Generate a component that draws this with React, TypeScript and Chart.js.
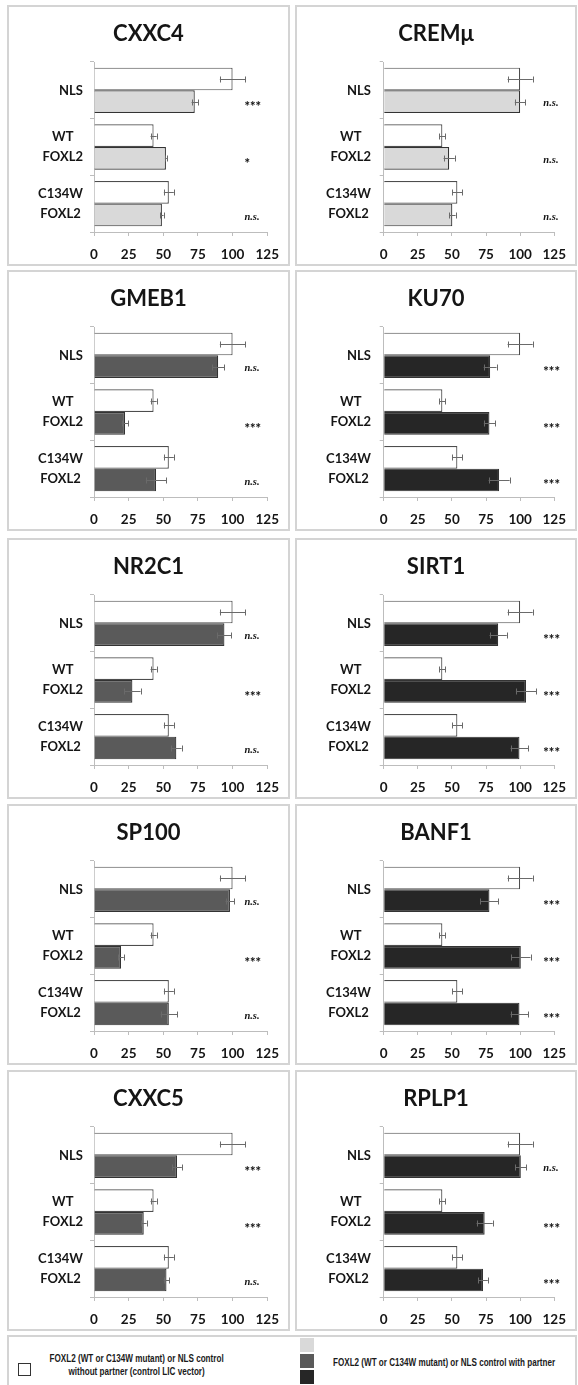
import React, { useEffect, useLayoutEffect, useRef } from "react";
import { Chart, registerables } from "chart.js";

Chart.register(...registerables);

// ---------- DATA ----------
const categoryLabels: (string | string[])[] = ["NLS", ["WT", "FOXL2"], ["C134W", "FOXL2"]];
const xTickValues = [0, 25, 50, 75, 100, 125];

// control (no partner, LIC vector) — same in every panel
const controlValues = [100, 43, 54];
const controlErrors = [9.2, 2.2, 3.6];

const geneNames = ["CXXC4", "CREMμ", "GMEB1", "KU70", "NR2C1", "SIRT1", "SP100", "BANF1", "CXXC5", "RPLP1"];

const cxxc4Values = [72.7, 51.9, 49.0];
const cxxc4Errors = [2.3, 0.7, 1.2];
const cxxc4Signif = ["***", "*", "n.s."];

const cremValues = [100, 48, 50.3];
const cremErrors = [3.9, 4.1, 2.4];
const cremSignif = ["n.s.", "n.s.", "n.s."];

const gmeb1Values = [89.6, 22.4, 44.8];
const gmeb1Errors = [4.4, 2.4, 7.4];
const gmeb1Signif = ["n.s.", "***", "n.s."];

const ku70Values = [78, 77.5, 84.6];
const ku70Errors = [4.7, 4.1, 7.7];
const ku70Signif = ["***", "***", "***"];

const nr2c1Values = [94.1, 27.7, 59.4];
const nr2c1Errors = [5.0, 5.9, 3.8];
const nr2c1Signif = ["n.s.", "***", "n.s."];

const sirt1Values = [83.9, 104.3, 99.5];
const sirt1Errors = [6.3, 7.4, 6.5];
const sirt1Signif = ["***", "***", "***"];

const sp100Values = [98.1, 19.5, 54];
const sp100Errors = [3.2, 2.0, 5.9];
const sp100Signif = ["n.s.", "***", "n.s."];

const banf1Values = [77.5, 100.5, 99.5];
const banf1Errors = [6.6, 7.1, 6.5];
const banf1Signif = ["***", "***", "***"];

const cxxc5Values = [59.9, 35.9, 52.3];
const cxxc5Errors = [3.5, 2.1, 2.1];
const cxxc5Signif = ["***", "***", "n.s."];

const rplp1Values = [100.5, 74, 72.8];
const rplp1Errors = [4.1, 5.9, 3.5];
const rplp1Signif = ["n.s.", "***", "***"];

const partnerShade = ["light", "light", "mid", "dark", "mid", "dark", "mid", "dark", "mid", "dark"];

const legendControlText = ["FOXL2 (WT or C134W mutant) or NLS control", "without partner (control LIC vector)"];
const legendPartnerText = "FOXL2 (WT or C134W mutant) or NLS control with partner";

// ---------- STYLE ----------
const FONT = "Lato, 'Open Sans', 'DejaVu Sans', sans-serif";
const LEGEND_FONT = "'Liberation Sans', Arial, sans-serif";
const AXIS = "#bdbdbd";
const TEXT = "#151515";
const SHADES: Record<string, string> = { light: "#d9d9d9", mid: "#5a5a5a", dark: "#262626" };

const panelValues = [cxxc4Values, cremValues, gmeb1Values, ku70Values, nr2c1Values, sirt1Values, sp100Values, banf1Values, cxxc5Values, rplp1Values];
const panelErrors = [cxxc4Errors, cremErrors, gmeb1Errors, ku70Errors, nr2c1Errors, sirt1Errors, sp100Errors, banf1Errors, cxxc5Errors, rplp1Errors];
const panelSignif = [cxxc4Signif, cremSignif, gmeb1Signif, ku70Signif, nr2c1Signif, sirt1Signif, sp100Signif, banf1Signif, cxxc5Signif, rplp1Signif];

const ROW_TOPS = [5, 270, 538, 804, 1070];
const PANEL_H = 261;
const COLS = [
  { left: 7, width: 283, plotLeft: 87, rightPad: 19.4, sigAt: 108.5 },
  { left: 295, width: 282, plotLeft: 88.7, rightPad: 16.3, sigAt: 117 },
];
const LABEL_RIGHT = 76;
const LABEL_LINE_H = 20;

function Panel({ index }: { index: number }) {
  const ref = useRef<HTMLCanvasElement>(null);
  const col = COLS[index % 2];
  const top = ROW_TOPS[Math.floor(index / 2)];

  useEffect(() => {
    const canvas = ref.current!;
    const name = geneNames[index];
    const values = panelValues[index];
    const errs = panelErrors[index];
    const sig = panelSignif[index];

    const textPlugin = {
      id: "panelText",
      afterDraw(chart: any) {
        const ctx = chart.ctx;
        ctx.save();
        // title
        ctx.font = `bold 22px ${FONT}`;
        ctx.fillStyle = TEXT;
        ctx.textAlign = "center";
        ctx.textBaseline = "middle";
        ctx.fillText(name, chart.width / 2, 29);
        // category labels: right-aligned blocks, lines centred within block
        const ys = chart.scales.y;
        ctx.font = `bold 13px ${FONT}`;
        chart.data.labels.forEach((lab: any, i: number) => {
          const lines: string[] = Array.isArray(lab) ? lab : [lab];
          const w = Math.max(...lines.map((l) => ctx.measureText(l).width));
          const cx = LABEL_RIGHT - w / 2;
          const cy = ys.getPixelForValue(i);
          const y0 = cy - ((lines.length - 1) * LABEL_LINE_H) / 2;
          lines.forEach((l, k) => ctx.fillText(l, cx, y0 + k * LABEL_LINE_H));
        });
        ctx.restore();
      },
    };

    const errorPlugin = {
      id: "errorBars",
      afterDatasetsDraw(chart: any) {
        const ctx = chart.ctx;
        const xs = chart.scales.x;
        const sets = [
          { v: controlValues, e: controlErrors },
          { v: values, e: errs },
        ];
        ctx.save();
        ctx.strokeStyle = "#6a6a6a";
        ctx.lineWidth = 1;
        sets.forEach((s, d) => {
          const meta = chart.getDatasetMeta(d);
          meta.data.forEach((el: any, i: number) => {
            const y = Math.round(el.y) + 0.5;
            const x1 = xs.getPixelForValue(s.v[i] - s.e[i]);
            const x2 = xs.getPixelForValue(s.v[i] + s.e[i]);
            ctx.beginPath();
            ctx.moveTo(x1, y);
            ctx.lineTo(x2, y);
            ctx.moveTo(Math.round(x1) + 0.5, y - 3);
            ctx.lineTo(Math.round(x1) + 0.5, y + 3);
            ctx.moveTo(Math.round(x2) + 0.5, y - 3);
            ctx.lineTo(Math.round(x2) + 0.5, y + 3);
            ctx.stroke();
          });
        });
        ctx.restore();
      },
    };

    const sigPlugin = {
      id: "signif",
      afterDatasetsDraw(chart: any) {
        const ctx = chart.ctx;
        const xs = chart.scales.x;
        const meta = chart.getDatasetMeta(1);
        ctx.save();
        ctx.fillStyle = TEXT;
        ctx.textAlign = "left";
        ctx.textBaseline = "middle";
        meta.data.forEach((el: any, i: number) => {
          const t = sig[i];
          const x = xs.getPixelForValue(col.sigAt);
          if (t === "n.s.") {
            ctx.font = `italic bold 10.5px 'Liberation Serif', 'DejaVu Serif', serif`;
            ctx.fillText(t, x, el.y + 2);
          } else {
            ctx.font = `900 13px ${FONT}`;
            ctx.fillText(t, x, el.y + 5);
          }
        });
        ctx.restore();
      },
    };

    const chart = new Chart(canvas, {
      type: "bar",
      data: {
        labels: categoryLabels as any,
        datasets: [
          {
            label: "control",
            data: controlValues,
            backgroundColor: "#ffffff",
            borderColor: "#4d4d4d",
            borderWidth: 1.2,
            categoryPercentage: 0.8,
            barPercentage: 1.0,
          },
          {
            label: "partner",
            data: values,
            backgroundColor: SHADES[partnerShade[index]],
            borderColor: "#333333",
            borderWidth: 1.2,
            categoryPercentage: 0.8,
            barPercentage: 1.0,
          },
        ],
      },
      options: {
        indexAxis: "y",
        responsive: false,
        animation: false,
        devicePixelRatio: 1,
        layout: { padding: { left: 0, right: col.rightPad, top: 57, bottom: 0 } },
        plugins: {
          legend: { display: false },
          tooltip: { enabled: false },
          title: { display: false },
        },
        scales: {
          x: {
            type: "linear",
            min: 0,
            max: 125,
            afterBuildTicks: (s: any) => {
              s.ticks = xTickValues.map((v) => ({ value: v }));
            },
            afterFit: (s: any) => {
              s.height = 34;
            },
            ticks: {
              font: { family: FONT, size: 13.5, weight: "bold" },
              color: TEXT,
              padding: 11,
              maxRotation: 0,
            },
            grid: { drawOnChartArea: false, tickLength: 4, color: AXIS },
            border: { color: AXIS, width: 1 },
          },
          y: {
            afterFit: (s: any) => {
              s.width = col.plotLeft;
            },
            ticks: { display: false },
            grid: { drawOnChartArea: false, tickLength: 4, color: AXIS, offset: true },
            border: { color: AXIS, width: 1 },
          },
        },
      } as any,
      plugins: [textPlugin, errorPlugin, sigPlugin],
    });
    return () => chart.destroy();
  }, [index]);

  return (
    <>
      <div
        style={{
          position: "absolute",
          left: col.left,
          top,
          width: col.width,
          height: PANEL_H,
          boxSizing: "border-box",
          border: "2px solid #d4d4d4",
        }}
      />
      <canvas
        ref={ref}
        width={col.width}
        height={PANEL_H}
        style={{ position: "absolute", left: col.left, top, width: col.width, height: PANEL_H }}
      />
    </>
  );
}

// text squeezed horizontally to a target width (the original uses a narrow typeface)
function FitText({
  lines,
  centerX,
  leftX,
  top,
  targetWidth,
  lineHeight,
}: {
  lines: string[];
  centerX?: number;
  leftX?: number;
  top: number;
  targetWidth: number;
  lineHeight: number;
}) {
  const ref = useRef<HTMLDivElement>(null);
  useLayoutEffect(() => {
    const el = ref.current!;
    el.style.transform = "none";
    const w = el.scrollWidth;
    const s = w > 0 ? targetWidth / w : 1;
    el.style.transform = `scaleX(${s})`;
    if (centerX !== undefined) {
      el.style.left = `${centerX - w / 2}px`;
      el.style.transformOrigin = "50% 50%";
    } else {
      el.style.left = `${leftX}px`;
      el.style.transformOrigin = "0 50%";
    }
  }, []);
  return (
    <div
      ref={ref}
      style={{
        position: "absolute",
        top,
        left: leftX ?? 0,
        fontFamily: LEGEND_FONT,
        fontWeight: "bold",
        fontSize: 10.5,
        lineHeight: `${lineHeight}px`,
        color: "#1a1a1a",
        whiteSpace: "nowrap",
        textAlign: "center",
      }}
    >
      {lines.map((t, i) => (
        <div key={i}>{t}</div>
      ))}
    </div>
  );
}

function Legend() {
  return (
    <>
      <div
        style={{
          position: "absolute",
          left: 7,
          top: 1335,
          width: 570,
          height: 60,
          boxSizing: "border-box",
          border: "2px solid #d4d4d4",
        }}
      />
      <div
        style={{
          position: "absolute",
          left: 18,
          top: 1363,
          width: 13,
          height: 13,
          boxSizing: "border-box",
          border: "1.5px solid #333",
          background: "#fff",
        }}
      />
      <FitText lines={legendControlText} centerX={136} top={1352} targetWidth={174} lineHeight={13} />
      {["light", "mid", "dark"].map((k, i) => (
        <div
          key={k}
          style={{
            position: "absolute",
            left: 300,
            top: 1338 + i * 16,
            width: 14,
            height: 14,
            background: SHADES[k],
          }}
        />
      ))}
      <FitText lines={[legendPartnerText]} leftX={333} top={1356} targetWidth={222} lineHeight={12} />
    </>
  );
}

export default function App() {
  return (
    <div
      style={{
        position: "absolute",
        left: 0,
        top: 0,
        width: 578,
        height: 1385,
        background: "#ffffff",
        overflow: "hidden",
      }}
    >
      {geneNames.map((_, i) => (
        <Panel key={i} index={i} />
      ))}
      <Legend />
    </div>
  );
}
